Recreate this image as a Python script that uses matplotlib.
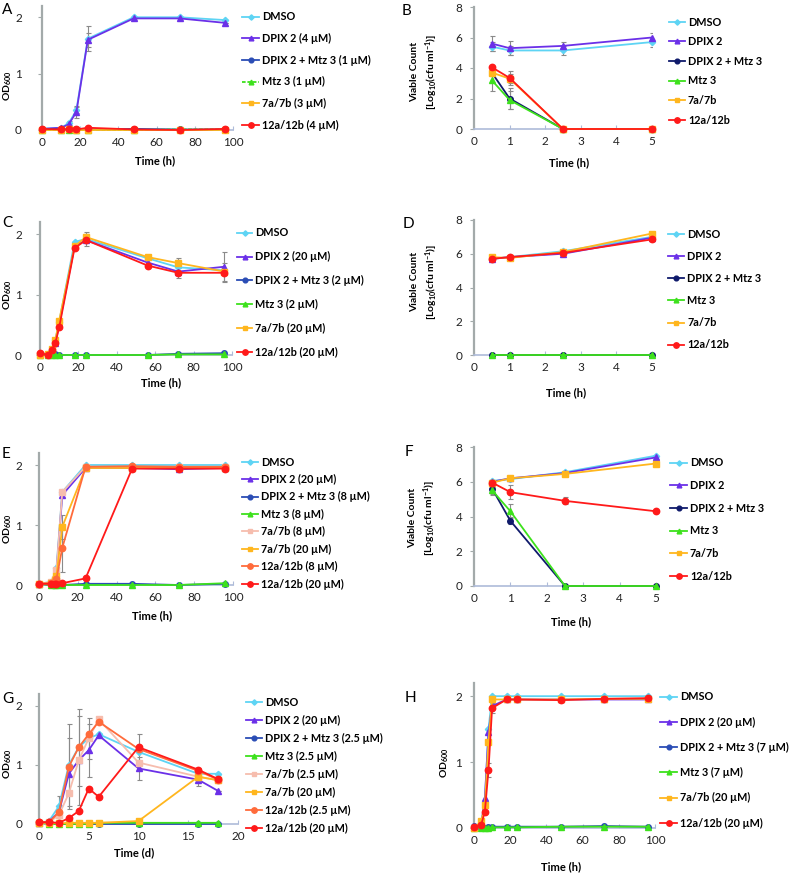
import matplotlib.pyplot as plt

plt.rcParams['font.family'] = ['Lato', 'DejaVu Sans']
plt.rcParams['mathtext.fontset'] = 'custom'
plt.rcParams['mathtext.rm'] = 'Lato'
plt.rcParams['mathtext.bf'] = 'Lato:bold'
plt.rcParams['mathtext.default'] = 'bf'

# ---- data ----
# A: OD600, hours
a_t = [0, 10, 14, 18, 24, 48, 72, 96]
a_dmso = [0.02, 0.04, 0.12, 0.35, 1.62, 2.0, 2.0, 1.95]
a_dmso_err = [0, 0, 0.04, 0.05, 0.22, 0, 0, 0]
a_dpix = [0.02, 0.04, 0.10, 0.32, 1.60, 1.98, 1.98, 1.90]
a_dpix_err = [0, 0, 0.03, 0.10, 0.12, 0, 0, 0]
a_combo = [0.01, 0.02, 0.01, 0.01, 0.01, 0.02, 0.01, 0.01]
a_mtz = [0.0, 0.0, 0.0, 0.0, 0.0, 0.0, 0.01, 0.01]
a_7 = [0.0, 0.0, 0.01, 0.0, 0.0, 0.0, 0.0, 0.0]
a_12 = [0.02, 0.01, 0.01, 0.01, 0.04, 0.01, 0.0, 0.02]
a_labels = ['DMSO', 'DPIX 2 (4 µM)', 'DPIX 2 + Mtz 3 (1 µM)', 'Mtz 3 (1 µM)',
            '7a/7b (3 µM)', '12a/12b (4 µM)']

# B: viable count, hours
b_t = [0.5, 1, 2.5, 5]
b_dmso = [5.4, 5.15, 5.15, 5.7]
b_dmso_err = [0.3, 0.3, 0.3, 0.3]
b_dpix = [5.6, 5.3, 5.45, 6.0]
b_dpix_err = [0.5, 0.45, 0.25, 0.3]
b_combo = [3.7, 2.0, 0, 0]
b_combo_err = [0.2, 0.7, 0, 0]
b_mtz = [3.2, 1.9, 0, 0]
b_mtz_err = [0.7, 0.6, 0, 0]
b_7 = [3.7, 3.3, 0, 0]
b_7_err = [0.1, 0.3, 0, 0]
b_12 = [4.05, 3.35, 0, 0]
b_12_err = [0.1, 0.45, 0, 0]
v_labels = ['DMSO', 'DPIX 2', 'DPIX 2 + Mtz 3', 'Mtz 3', '7a/7b', '12a/12b']

# C: OD600, hours
c_t = [0, 4, 6, 8, 10, 18, 24, 56, 72, 96]
c_dmso = [0.02, 0.02, 0.10, 0.25, 0.55, 1.87, 1.92, 1.60, 1.45, 1.40]
c_dpix = [0.02, 0.02, 0.08, 0.20, 0.50, 1.80, 1.90, 1.53, 1.38, 1.46]
c_dpix_err = [0, 0, 0, 0, 0, 0, 0.1, 0.05, 0.1, 0.25]
c_combo = [0.02, 0.0, 0.02, 0.02, 0.0, 0.0, 0.0, 0.0, 0.02, 0.03]
c_mtz = [0.0, 0.0, 0.0, 0.0, 0.0, 0.0, 0.0, 0.0, 0.01, 0.01]
c_7 = [0.0, 0.02, 0.10, 0.25, 0.57, 1.80, 1.95, 1.62, 1.52, 1.38]
c_7_err = [0, 0, 0, 0, 0, 0, 0.08, 0.04, 0.08, 0.15]
c_12 = [0.03, 0.0, 0.08, 0.20, 0.46, 1.77, 1.90, 1.48, 1.36, 1.36]
c_labels = ['DMSO', 'DPIX 2 (20 µM)', 'DPIX 2 + Mtz 3 (2 µM)', 'Mtz 3 (2 µM)',
            '7a/7b (20 µM)', '12a/12b (20 µM)']

# D: viable count, hours
d_t = [0.5, 1, 2.5, 5]
d_dmso = [5.7, 5.8, 6.15, 7.0]
d_dpix = [5.7, 5.8, 6.0, 6.95]
d_combo = [0, 0, 0, 0]
d_mtz = [0, 0, 0, 0]
d_7 = [5.8, 5.75, 6.1, 7.2]
d_12 = [5.7, 5.8, 6.05, 6.85]

# E: OD600, hours
e_t = [0, 6, 8, 9, 12, 24, 48, 72, 96]
e_dmso = [0.02, 0.05, 0.12, 0.28, 1.55, 2.0, 2.0, 2.0, 2.0]
e_dpix = [0.02, 0.03, 0.08, 0.20, 1.50, 1.95, 1.95, 1.93, 1.95]
e_combo = [0.02, 0.0, 0.0, 0.0, 0.0, 0.02, 0.02, 0.0, 0.02]
e_mtz = [0.02, 0.0, 0.0, 0.0, 0.0, 0.0, 0.0, 0.0, 0.03]
e_7lo = [0.02, 0.05, 0.10, 0.25, 1.55, 1.97, 1.97, 1.97, 1.97]
e_7 = [0.02, 0.03, 0.08, 0.15, 0.97, 1.95, 1.95, 1.95, 1.95]
e_7_err = [0, 0, 0, 0, 0.2, 0, 0, 0, 0]
e_12lo = [0.02, 0.03, 0.05, 0.10, 0.62, 1.97, 1.98, 1.97, 1.97]
e_12lo_err = [0, 0, 0, 0, 0.4, 0, 0, 0, 0]
e_12 = [0.02, 0.02, 0.02, 0.02, 0.03, 0.11, 1.94, 1.94, 1.94]
e_labels = ['DMSO', 'DPIX 2 (20 µM)', 'DPIX 2 + Mtz 3 (8 µM)', 'Mtz 3 (8 µM)',
            '7a/7b (8 µM)', '7a/7b (20 µM)', '12a/12b (8 µM)', '12a/12b (20 µM)']

# F: viable count, hours
f_t = [0.5, 1, 2.5, 5]
f_dmso = [6.05, 6.15, 6.55, 7.5]
f_dpix = [6.0, 6.2, 6.5, 7.4]
f_combo = [5.6, 3.75, 0, 0]
f_combo_err = [0.35, 0.2, 0, 0]
f_mtz = [5.5, 4.3, 0, 0]
f_mtz_err = [0.2, 0.4, 0, 0]
f_7 = [5.95, 6.2, 6.45, 7.05]
f_12 = [5.95, 5.4, 4.9, 4.3]
f_12_err = [0.1, 0.4, 0.2, 0.1]

# G: OD600, days
g_t = [0, 1, 2, 3, 4, 5, 6, 10, 16, 18]
g_dmso = [0.02, 0.05, 0.30, 1.00, 1.30, 1.45, 1.52, 1.22, 0.85, 0.85]
g_dmso_err = [0, 0, 0.18, 0.7, 0.65, 0.35, 0, 0.3, 0.1, 0]
g_dpix = [0.02, 0.04, 0.20, 0.85, 1.08, 1.25, 1.50, 0.94, 0.75, 0.56]
g_dpix_err = [0, 0, 0.1, 0.6, 0.75, 0.45, 0, 0.2, 0.1, 0]
g_combo = [0.02, 0.02, 0.0, 0.0, 0.0, 0.0, 0.0, 0.0, 0.0, 0.0]
g_mtz = [0.02, 0.0, 0.0, 0.0, 0.0, 0.0, 0.02, 0.02, 0.02, 0.02]
g_7lo = [0.02, 0.03, 0.15, 0.52, 1.08, 1.45, 1.77, 1.04, 0.80, 0.74]
g_7 = [0.02, 0.02, 0.01, 0.02, 0.02, 0.02, 0.02, 0.05, 0.80, 0.74]
g_12lo = [0.03, 0.03, 0.20, 0.97, 1.30, 1.52, 1.73, 1.27, 0.90, 0.75]
g_12 = [0.03, 0.03, 0.02, 0.10, 0.22, 0.60, 0.46, 1.30, 0.92, 0.76]
g_labels = ['DMSO', 'DPIX 2 (20 µM)', 'DPIX 2 + Mtz 3 (2.5 µM)', 'Mtz 3 (2.5 µM)',
            '7a/7b (2.5 µM)', '7a/7b (20 µM)', '12a/12b (2.5 µM)', '12a/12b (20 µM)']

# H: OD600, hours
h_t = [0, 4, 6, 8, 10, 18, 24, 48, 72, 96]
h_dmso = [0.02, 0.05, 0.40, 1.50, 2.0, 2.0, 2.0, 2.0, 2.0, 2.0]
h_dpix = [0.02, 0.05, 0.45, 1.45, 1.85, 1.95, 1.95, 1.95, 1.95, 1.95]
h_combo = [0.03, 0.0, 0.0, 0.01, 0.02, 0.02, 0.02, 0.02, 0.03, 0.02]
h_mtz = [0.0, 0.0, 0.0, 0.0, 0.01, 0.01, 0.01, 0.02, 0.02, 0.02]
h_7 = [0.0, 0.10, 0.35, 1.30, 1.95, 1.95, 1.95, 1.95, 1.96, 1.96]
h_12 = [0.02, 0.05, 0.25, 0.88, 1.82, 1.95, 1.95, 1.94, 1.96, 1.97]
h_12_err = [0, 0, 0, 0.1, 0.08, 0, 0.04, 0, 0.04, 0]
h_labels = ['DMSO', 'DPIX 2 (20 µM)', 'DPIX 2 + Mtz 3 (7 µM)', 'Mtz 3 (7 µM)',
            '7a/7b (20 µM)', '12a/12b (20 µM)']

# ---- styles ----
STY = {
    'dmso': ('#5ED4F4', 'D', 3.2),
    'dpix': ('#6B30E8', '^', 4.0),
    'combo': ('#2B4DB5', 'o', 4.0),
    'combo_v': ('#0F1A6B', 'o', 4.0),
    'mtz': ('#3DE11C', '^', 4.0),
    '7': ('#FFB61E', 's', 4.0),
    '7lo': ('#F6BDAE', 's', 4.0),
    '12': ('#FF1A1A', 'o', 4.6),
    '12lo': ('#FF6B3B', 'o', 4.6),
}

W, H = 790, 875
fig = plt.figure(figsize=(W / 100, H / 100), dpi=100)
LEG_FS = 7.8
FS_PX = LEG_FS * 100 / 72


def place_legend(ax, leg_spec, n):
    # put legend text rows at the wanted pixel positions (measured after a draw)
    hx, tx, y0, y1 = leg_spec
    gap = (y1 - y0) / (n - 1)
    hl = (tx - hx) / FS_PX - 0.25
    ls = 0.6
    anchor = [hx, y0 - 7]
    for _ in range(3):
        leg = ax.legend(loc='upper left',
                        bbox_to_anchor=(anchor[0] / W, 1 - anchor[1] / H),
                        bbox_transform=fig.transFigure, frameon=False,
                        prop={'size': LEG_FS, 'weight': 'bold'}, borderpad=0,
                        borderaxespad=0, handletextpad=0.25, handlelength=hl,
                        labelspacing=ls, markerscale=0.85)
        fig.canvas.draw()
        r = fig.canvas.get_renderer()
        ext = [t.get_window_extent(r) for t in leg.get_texts()]
        c0 = H - (ext[0].y0 + ext[0].y1) / 2
        cn = H - (ext[-1].y0 + ext[-1].y1) / 2
        real_gap = (cn - c0) / (n - 1)
        row = real_gap - ls * FS_PX
        ls = max((gap - row) / FS_PX, 0.0)
        anchor[1] += y0 - c0
        anchor[0] += tx - ext[0].x0
    return leg


def panel(box, series, xlim, xticks, ylim, yticks, letter, letter_xy,
          ylab, ylab_xy, xlab, xlab_xy, leg, ypad):
    l, r, t, b = box
    ax = fig.add_axes([l / W, 1 - b / H, (r - l) / W, (b - t) / H])
    for x, y, err, key, lab, *ls in series:
        c, m, ms = STY[key]
        if err is not None:
            ax.errorbar(x, y, yerr=err, fmt='none', ecolor='#8A8A8A',
                        elinewidth=0.8, capsize=1.8, capthick=0.8, zorder=2)
        ax.plot(x, y, color=c, marker=m, ms=ms, lw=1.3, label=lab,
                ls=ls[0] if ls else '-', clip_on=False, zorder=3)
    ax.set_xlim(*xlim)
    ax.set_ylim(*ylim)
    ax.set_xticks(xticks)
    ax.set_yticks(yticks)
    for s in ['top', 'right']:
        ax.spines[s].set_visible(False)
    ax.spines['left'].set_color('#A3AAAA')
    ax.spines['left'].set_linewidth(1.6)
    ax.spines['bottom'].set_color('#AEBBD9')
    ax.spines['bottom'].set_linewidth(1.2)
    ax.tick_params(axis='y', direction='out', length=3, color='#A3AAAA',
                   labelsize=8.5, pad=ypad, labelcolor='#222222')
    ax.tick_params(axis='x', direction='in', length=3, color='#AEBBD9',
                   labelsize=8.5, pad=5, labelcolor='#222222')
    fig.text(letter_xy[0] / W, 1 - letter_xy[1] / H, letter, fontsize=11,
             va='top', ha='left')
    # y label: (left edge or centre x, centre y, horizontal alignment)
    fig.text(ylab_xy[0] / W, 1 - ylab_xy[1] / H, ylab, fontsize=7.5,
             fontweight='bold', rotation=90, ha=ylab_xy[2], va='center',
             linespacing=1.3)
    fig.text(xlab_xy[0] / W, 1 - xlab_xy[1] / H, xlab, fontsize=8,
             fontweight='bold', ha='center', va='center')
    place_legend(ax, leg, len(series))
    return ax


od = r'OD$_{600}$'
vc = 'Viable Count\n[Log$_{10}$(cfu ml$^{-1}$)]'

panel((42, 233, 6, 130),
      [(a_t, a_dmso, a_dmso_err, 'dmso', a_labels[0]),
       (a_t, a_dpix, a_dpix_err, 'dpix', a_labels[1]),
       (a_t, a_combo, None, 'combo', a_labels[2]),
       (a_t, a_mtz, None, 'mtz', a_labels[3], (0, (2, 1))),
       (a_t, a_7, None, '7', a_labels[4]),
       (a_t, a_12, None, '12', a_labels[5])],
      (0, 100), [0, 20, 40, 60, 80, 100], (0, 2.2), [0, 1, 2],
      'A', (2, 3), od, (1, 86, 'left'), 'Time (h)', (155, 161),
      (242, 262, 17, 125), 11.5)

panel((474, 652, 7, 129),
      [(b_t, b_dmso, b_dmso_err, 'dmso', v_labels[0]),
       (b_t, b_dpix, b_dpix_err, 'dpix', v_labels[1]),
       (b_t, b_combo, b_combo_err, 'combo_v', v_labels[2]),
       (b_t, b_mtz, b_mtz_err, 'mtz', v_labels[3]),
       (b_t, b_7, b_7_err, '7', v_labels[4]),
       (b_t, b_12, b_12_err, '12', v_labels[5])],
      (0, 5), [0, 1, 2, 3, 4, 5], (0, 8), [0, 2, 4, 6, 8],
      'B', (402, 4), vc, (425, 72, 'center'), 'Time (h)', (569, 163),
      (669, 688, 22, 120), 5.5)

panel((40, 232, 222, 355),
      [(c_t, c_dmso, None, 'dmso', c_labels[0]),
       (c_t, c_dpix, c_dpix_err, 'dpix', c_labels[1]),
       (c_t, c_combo, None, 'combo', c_labels[2]),
       (c_t, c_mtz, None, 'mtz', c_labels[3]),
       (c_t, c_7, c_7_err, '7', c_labels[4]),
       (c_t, c_12, None, '12', c_labels[5])],
      (0, 100), [0, 20, 40, 60, 80, 100], (0, 2.2), [0, 1, 2],
      'C', (2, 216), od, (1, 295, 'left'), 'Time (h)', (161, 383),
      (237, 255, 233, 352), 10)

panel((474, 652, 220, 355),
      [(d_t, d_dmso, None, 'dmso', v_labels[0]),
       (d_t, d_dpix, None, 'dpix', v_labels[1]),
       (d_t, d_combo, None, 'combo_v', v_labels[2]),
       (d_t, d_mtz, None, 'mtz', v_labels[3]),
       (d_t, d_7, None, '7', v_labels[4]),
       (d_t, d_12, None, '12', v_labels[5])],
      (0, 5), [0, 1, 2, 3, 4, 5], (0, 8), [0, 2, 4, 6, 8],
      'D', (403, 217), vc, (425, 282, 'center'), 'Time (h)', (566, 393),
      (668, 687, 234, 345), 5.5)

panel((39, 233, 453, 585),
      [(e_t, e_dmso, None, 'dmso', e_labels[0]),
       (e_t, e_dpix, None, 'dpix', e_labels[1]),
       (e_t, e_combo, None, 'combo', e_labels[2]),
       (e_t, e_mtz, None, 'mtz', e_labels[3]),
       (e_t, e_7lo, None, '7lo', e_labels[4]),
       (e_t, e_7, e_7_err, '7', e_labels[5]),
       (e_t, e_12lo, e_12lo_err, '12lo', e_labels[6]),
       (e_t, e_12, None, '12', e_labels[7])],
      (0, 100), [0, 20, 40, 60, 80, 100], (0, 2.2), [0, 1, 2],
      'E', (2, 447), od, (1, 529, 'left'), 'Time (h)', (152, 616),
      (242, 261, 462, 584), 9)

panel((474, 656, 447, 586),
      [(f_t, f_dmso, None, 'dmso', v_labels[0]),
       (f_t, f_dpix, None, 'dpix', v_labels[1]),
       (f_t, f_combo, f_combo_err, 'combo_v', v_labels[2]),
       (f_t, f_mtz, f_mtz_err, 'mtz', v_labels[3]),
       (f_t, f_7, None, '7', v_labels[4]),
       (f_t, f_12, f_12_err, '12', v_labels[5])],
      (0, 5), [0, 1, 2, 3, 4, 5], (0, 8), [0, 2, 4, 6, 8],
      'F', (405, 445), vc, (423, 518, 'center'), 'Time (h)', (571, 622),
      (670, 690, 463, 576), 5.5)

panel((39, 238, 694, 824),
      [(g_t, g_dmso, g_dmso_err, 'dmso', g_labels[0]),
       (g_t, g_dpix, g_dpix_err, 'dpix', g_labels[1]),
       (g_t, g_combo, None, 'combo', g_labels[2]),
       (g_t, g_mtz, None, 'mtz', g_labels[3]),
       (g_t, g_7lo, None, '7lo', g_labels[4]),
       (g_t, g_7, None, '7', g_labels[5]),
       (g_t, g_12lo, None, '12lo', g_labels[6]),
       (g_t, g_12, None, '12', g_labels[7])],
      (0, 20), [0, 5, 10, 15, 20], (0, 2.2), [0, 1, 2],
      'G', (2, 692), od, (1, 764, 'left'), 'Time (d)', (134, 853),
      (246, 265, 702, 828), 9)

panel((474, 655, 683, 828),
      [(h_t, h_dmso, None, 'dmso', h_labels[0]),
       (h_t, h_dpix, None, 'dpix', h_labels[1]),
       (h_t, h_combo, None, 'combo', h_labels[2]),
       (h_t, h_mtz, None, 'mtz', h_labels[3]),
       (h_t, h_7, None, '7', h_labels[4]),
       (h_t, h_12, h_12_err, '12', h_labels[5])],
      (0, 100), [0, 20, 40, 60, 80, 100], (0, 2.2), [0, 1, 2],
      'H', (405, 691), od, (439, 763, 'left'), 'Time (h)', (561, 867),
      (660, 680, 697, 823), 5.5)

fig.savefig('out.png', dpi=100)
